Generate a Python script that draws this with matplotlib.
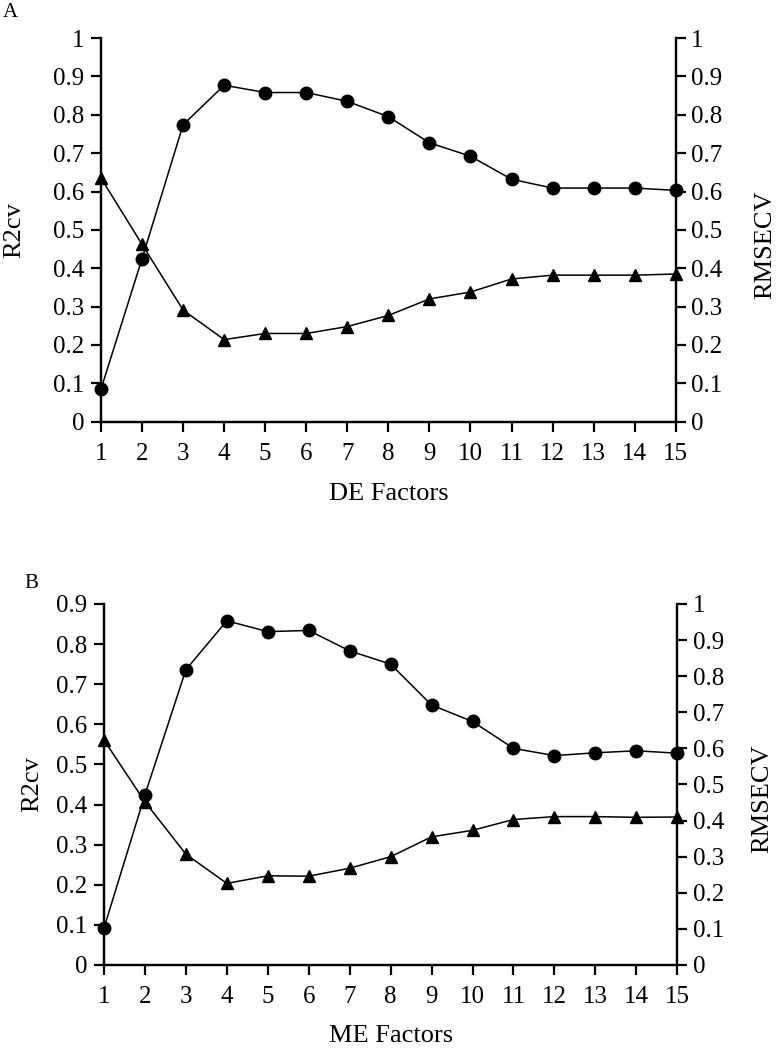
import matplotlib
matplotlib.use("Agg")
import matplotlib.pyplot as plt

plt.rcParams['font.family'] = ['Liberation Serif', 'DejaVu Serif']

factors = list(range(1, 16))

# Panel A (DE)
de_r2cv = [0.085, 0.425, 0.774, 0.877, 0.858, 0.858, 0.835, 0.795, 0.727,
           0.692, 0.632, 0.609, 0.609, 0.609, 0.603]
de_rmsecv = [0.635, 0.462, 0.291, 0.214, 0.230, 0.230, 0.248, 0.277, 0.320,
             0.338, 0.372, 0.382, 0.382, 0.382, 0.385]

# Panel B (ME)
me_r2cv = [0.092, 0.424, 0.736, 0.858, 0.831, 0.834, 0.783, 0.750, 0.648,
           0.607, 0.540, 0.522, 0.529, 0.534, 0.528]
me_rmsecv = [0.623, 0.452, 0.307, 0.226, 0.247, 0.246, 0.268, 0.300, 0.355,
             0.373, 0.403, 0.411, 0.411, 0.409, 0.410]

left_ticks_a = [0, 0.1, 0.2, 0.3, 0.4, 0.5, 0.6, 0.7, 0.8, 0.9, 1]
left_ticks_b = [0, 0.1, 0.2, 0.3, 0.4, 0.5, 0.6, 0.7, 0.8, 0.9]
right_ticks = [0, 0.1, 0.2, 0.3, 0.4, 0.5, 0.6, 0.7, 0.8, 0.9, 1]


def fmt(v):
    return "0" if v == 0 else ("1" if v == 1 else "%g" % v)


def panel(fig, rect, r2cv, rmsecv, left_ticks, xlabel, letter, letter_pos,
          ylab_x, rlab_x, xlab_y):
    ax = fig.add_axes(rect)
    ax2 = ax.twinx()

    ax.plot(factors, r2cv, color="black", lw=1.1, marker="o", ms=9,
            clip_on=False, zorder=5)
    ax2.plot(factors, rmsecv, color="black", lw=1.1, marker="^", ms=9,
             clip_on=False, zorder=5)

    ax.set_xlim(1, 15)
    ax.set_ylim(0, left_ticks[-1])
    ax2.set_ylim(0, 1)
    ax.set_xticks(factors)
    ax.set_yticks(left_ticks)
    ax.set_yticklabels([fmt(v) for v in left_ticks])
    ax2.set_yticks(right_ticks)
    ax2.set_yticklabels([fmt(v) for v in right_ticks])

    for a in (ax, ax2):
        a.spines["top"].set_visible(False)
        for s in a.spines.values():
            s.set_linewidth(1.6)
        a.tick_params(labelsize=18, width=1.6, length=7, pad=5)
    ax.tick_params(axis="x", pad=8)
    ax2.tick_params(axis="y", pad=4)

    ax.set_xlabel(xlabel, fontsize=19)
    ax.xaxis.label.set_va("baseline")
    ax.xaxis.set_label_coords(0.5, xlab_y)
    ax.set_ylabel("R2cv", fontsize=19)
    ax.yaxis.set_label_coords(ylab_x, 0.5)
    ax2.set_ylabel("RMSECV", fontsize=19)
    ax2.yaxis.set_label_coords(rlab_x, 0.46)
    ax.yaxis.label.set_va("center")
    ax2.yaxis.label.set_va("center")

    fig.text(letter_pos[0], letter_pos[1], letter, fontsize=15,
             ha="left", va="top")


def main():
    fig = plt.figure(figsize=(7.8, 10.48), dpi=100)

    panel(fig, [0.1295, 0.5976, 0.7368, 0.3661], de_r2cv, de_rmsecv,
          left_ticks_a, "DE Factors", "A", (0.003, 0.997),
          -0.151, 1.155, -0.204)
    panel(fig, [0.1333, 0.0792, 0.7350, 0.3445], me_r2cv, me_rmsecv,
          left_ticks_b, "ME Factors", "B", (0.031, 0.452),
          -0.126, 1.149, -0.213)

    fig.savefig("out.png", dpi=100)


if __name__ == "__main__":
    main()
